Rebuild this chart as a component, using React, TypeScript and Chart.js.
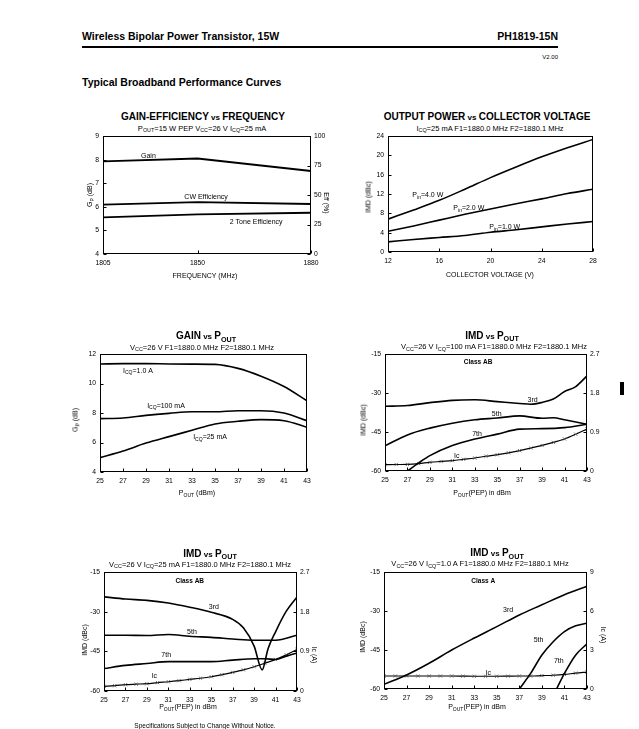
import React, { useEffect, useRef } from 'react';
import { Chart, registerables } from 'chart.js';

Chart.register(...registerables);

const FONT = '"Liberation Sans", Arial, Helvetica, sans-serif';
Chart.defaults.font.family = FONT;
Chart.defaults.color = '#000';

// ---------- Chart 1: Gain-Efficiency vs Frequency ----------
const freqLabels = ['1805', '', '', '', '', '1850', '', '', '', '', '', '1880'];
const gainDb = [7.93, null, null, null, null, 8.05, null, null, null, null, null, 7.52];
const cwEff = [41.8, null, null, null, null, 44.0, null, null, null, null, null, 42.4];
const twoToneEff = [31.1, null, null, null, null, 33.6, null, null, null, null, null, 35.0];
const gainTicks1 = [4, 5, 6, 7, 8, 9];
const effTicks = [0, 25, 50, 75, 100];

// ---------- Chart 2: Output power vs collector voltage ----------
const vccVolts = [12, 14, 16, 18, 20, 22, 24, 26, 28];
const pin4W = [6.8, 8.7, 10.7, 13.0, 15.4, 17.6, 19.7, 21.6, 23.3];
const pin2W = [4.3, 5.4, 6.6, 7.8, 8.9, 10.0, 11.0, 12.1, 13.0];
const pin1W = [2.1, 2.6, 3.0, 3.4, 4.1, 4.6, 5.2, 5.8, 6.3];
const vccTicks = [12, 16, 20, 24, 28];
const pwrTicks = [0, 4, 8, 12, 16, 20, 24];

// ---------- Chart 3: Gain vs Pout ----------
const poutDbm = [25, 27, 29, 31, 33, 35, 37, 39, 41, 43];
const gain1A = [11.33, 11.35, 11.35, 11.33, 11.32, 11.3, 11.03, 10.5, 9.8, 8.83];
const gain100mA = [7.62, 7.66, 7.84, 7.98, 8.09, 8.09, 8.16, 8.16, 8.0, 7.48];
const gain25mA = [4.97, 5.42, 5.96, 6.4, 6.83, 7.26, 7.44, 7.55, 7.48, 7.03];
const poutTicks = [25, 27, 29, 31, 33, 35, 37, 39, 41, 43];
const gainTicks3 = [4, 6, 8, 10, 12];

// shared IMD axes
const imdTicks = [-60, -45, -30, -15];
const icTicks27 = [0, 0.9, 1.8, 2.7];
const icTicks9 = [0, 3, 6, 9];
const icPout = [25, 26, 27, 28, 29, 30, 31, 32, 33, 34, 35, 36, 37, 38, 39, 40, 41, 42, 43];

// ---------- Chart 4: IMD vs Pout, Icq = 100 mA ----------
const c4x3 = [25, 27, 29, 31, 33, 35, 37, 38, 39, 40, 41, 42, 43];
const c4imd3 = [-35.1, -34.8, -33.7, -32.8, -32.6, -33.3, -34.0, -34.3, -33.6, -32.3, -29.4, -27.5, -23.4];
const c4x5 = [25, 27, 29, 31, 33, 35, 37, 39, 40, 41, 43];
const c4imd5 = [-50.3, -46.1, -43.5, -41.6, -40.3, -39.6, -38.8, -39.7, -39.5, -40.3, -42.0];
const c4x7 = [27, 28, 29, 31, 33, 35, 37, 39, 41, 43];
const c4imd7 = [-60, -56.9, -54.1, -50.2, -47.7, -45.8, -43.9, -43.7, -43.3, -42.0];
const c4ic = [0.146, 0.15, 0.153, 0.17, 0.2, 0.22, 0.24, 0.27, 0.3, 0.34, 0.376, 0.42, 0.47, 0.53, 0.59, 0.66, 0.74, 0.85, 0.97];

// ---------- Chart 5: IMD vs Pout, Icq = 25 mA ----------
const c5x3 = [25, 27, 29, 31, 33, 35, 37, 38, 39, 39.75, 40.3, 41, 42, 43];
const c5imd3 = [-24.4, -25.2, -25.7, -26.7, -28.3, -30.2, -32.9, -36.1, -43.0, -52.0, -44.0, -37.6, -29.8, -24.4];
const c5x5 = [25, 27, 29, 31, 33, 35, 37, 39, 41, 43];
const c5imd5 = [-38.9, -38.9, -39.0, -38.6, -39.3, -39.7, -40.3, -40.8, -40.8, -38.9];
const c5x7 = [25, 27, 29, 31, 33, 35, 37, 39, 40, 41, 42, 43];
const c5imd7 = [-51.5, -50.3, -49.6, -48.9, -48.9, -48.9, -48.3, -47.8, -47.8, -48.1, -46.8, -45.6];
const c5ic = [0.106, 0.12, 0.143, 0.155, 0.166, 0.19, 0.21, 0.235, 0.264, 0.29, 0.324, 0.37, 0.422, 0.48, 0.55, 0.63, 0.716, 0.82, 0.943];

// ---------- Chart 6: IMD vs Pout, Icq = 1.0 A (Class A) ----------
const c6x3 = [25, 27, 29, 31, 33, 35, 37, 39, 41, 43];
const c6imd3 = [-58.2, -54.6, -50.1, -45.0, -40.4, -36.0, -31.5, -27.6, -23.7, -20.5];
const c6x5 = [37, 38, 39, 40, 41, 42, 43];
const c6imd5 = [-60, -54.0, -46.9, -41.8, -37.9, -35.7, -34.7];
const c6x7 = [40.3, 41, 42, 43];
const c6imd7 = [-60, -54.0, -46.9, -42.6];
const c6ic = [1.0, 1.0, 1.0, 1.0, 1.0, 1.0, 1.0, 0.99, 0.98, 0.98, 0.98, 0.99, 1.0, 1.0, 1.03, 1.06, 1.12, 1.22, 1.3];

// ---------- layout helpers ----------
type Rect = [number, number, number, number];
const PAD = { l: 34, r: 34, t: 8, b: 22 };

function fixedTicks(values: number[]) {
  return (scale: any) => {
    scale.ticks = values.map((v) => ({ value: v }));
  };
}

function linAxis(axis: 'x' | 'y', position: string, min: number, max: number, values: number[], fmt?: (v: number) => string) {
  return {
    type: 'linear',
    position,
    min,
    max,
    grid: { display: false, drawTicks: false },
    border: { display: false },
    afterBuildTicks: fixedTicks(values),
    afterFit: (s: any) => {
      if (axis === 'x') s.height = PAD.b;
      else s.width = position === 'left' ? PAD.l : PAD.r;
    },
    ticks: {
      font: { size: 6.8 },
      color: '#000',
      padding: axis === 'x' ? 5 : position === 'left' ? 4 : 3,
      maxRotation: 0,
      callback: (v: number) => (fmt ? fmt(v) : String(v)),
    },
  };
}

function drawRich(ctx: CanvasRenderingContext2D, text: string, x: number, y: number, size: number, bold: boolean, align: string) {
  const parts = text.split(/_\{([^}]*)\}/);
  const fonts = parts.map((_, i) => `${bold ? 'bold ' : ''}${i % 2 ? size * 0.72 : size}px ${FONT}`);
  const widths = parts.map((p, i) => {
    ctx.font = fonts[i];
    return ctx.measureText(p).width;
  });
  const total = widths.reduce((a, b) => a + b, 0);
  let cx = align === 'center' ? x - total / 2 : align === 'right' ? x - total : x;
  ctx.textAlign = 'left';
  ctx.textBaseline = 'middle';
  ctx.fillStyle = '#000';
  parts.forEach((p, i) => {
    ctx.font = fonts[i];
    ctx.fillText(p, cx, i % 2 ? y + size * 0.32 : y);
    cx += widths[i];
  });
}

const framePlugin = {
  id: 'frame',
  afterDraw(chart: any, _args: any, opts: any) {
    const { ctx, chartArea: a, scales } = chart;
    ctx.save();
    ctx.strokeStyle = '#000';
    ctx.lineWidth = 1;
    const L = Math.round(a.left) + 0.5;
    const T = Math.round(a.top) + 0.5;
    const R = Math.round(a.right) - 0.5;
    const B = Math.round(a.bottom) - 0.5;
    ctx.strokeRect(L, T, R - L, B - T);
    ctx.beginPath();
    Object.keys(scales).forEach((id) => {
      const s = scales[id];
      s.ticks.forEach((t: any, i: number) => {
        if (t.label === '' || t.label === undefined) return;
        const p = Math.round(s.getPixelForTick(i)) + 0.5;
        if (id === 'x') {
          ctx.moveTo(p, B);
          ctx.lineTo(p, B - 3);
        } else if (id === 'y') {
          ctx.moveTo(L, p);
          ctx.lineTo(L + 3, p);
        } else if (id === 'y1') {
          ctx.moveTo(R, p);
          ctx.lineTo(R - 3, p);
        }
      });
    });
    ctx.stroke();
    (opts.notes || []).forEach((n: any) => {
      const px = scales.x.getPixelForValue(n.x);
      const py = scales.y.getPixelForValue(n.y);
      drawRich(ctx, n.t, px, py, n.size || 7, !!n.bold, n.a || 'center');
    });
    ctx.restore();
  },
};

function series(xs: number[], ys: number[], extra: any = {}) {
  return {
    data: xs.map((x, i) => ({ x, y: ys[i] })),
    borderColor: '#000',
    borderWidth: 1.6,
    pointRadius: 0,
    cubicInterpolationMode: 'monotone',
    fill: false,
    ...extra,
  };
}

function icSeries(ys: number[]) {
  return series(icPout, ys, {
    yAxisID: 'y1',
    borderWidth: 1.2,
    pointStyle: 'crossRot',
    pointRadius: 2.3,
    pointBorderWidth: 0.8,
    pointBorderColor: '#555',
  });
}

function makeConfig(datasets: any[], scales: any, notes: any[], hasRight: boolean, labels?: string[]) {
  return {
    type: 'line',
    data: labels ? { labels, datasets } : { datasets },
    options: {
      responsive: false,
      animation: false,
      devicePixelRatio: 1,
      layout: { padding: { top: PAD.t, right: hasRight ? 0 : PAD.r, left: 0, bottom: 0 } },
      plugins: { legend: { display: false }, tooltip: { enabled: false }, frame: { notes } },
      scales,
    },
    plugins: [framePlugin],
  };
}

function ChartBox({ rect, config }: { rect: Rect; config: () => any }) {
  const ref = useRef<HTMLCanvasElement>(null);
  const [pl, pt, pr, pb] = rect;
  const w = pr - pl + PAD.l + PAD.r;
  const h = pb - pt + PAD.t + PAD.b;
  useEffect(() => {
    const c = new Chart(ref.current as HTMLCanvasElement, config() as any);
    return () => c.destroy();
  }, []);
  return (
    <canvas
      ref={ref}
      width={w}
      height={h}
      style={{ position: 'absolute', left: pl - PAD.l, top: pt - PAD.t, width: w, height: h }}
    />
  );
}

function Rich({ text }: { text: string }) {
  const parts = text.split(/_\{([^}]*)\}/);
  return (
    <>
      {parts.map((p, i) =>
        i % 2 ? (
          <span key={i} style={{ fontSize: '0.72em', position: 'relative', top: '0.35em' }}>
            {p}
          </span>
        ) : (
          <span key={i}>{p}</span>
        )
      )}
    </>
  );
}

function Txt({ x, y, size, text, bold, align = 'center', rotate = 0, vs = false }: any) {
  const tx = align === 'center' ? '-50%' : align === 'right' ? '-100%' : '0';
  let content: any = <Rich text={text} />;
  if (vs) {
    const [a, b] = text.split(' vs ');
    content = (
      <>
        <Rich text={a} />
        <span style={{ fontSize: '0.8em' }}> vs </span>
        <Rich text={b} />
      </>
    );
  }
  return (
    <div
      style={{
        position: 'absolute',
        left: x,
        top: y,
        transform: `translate(${tx},-50%) rotate(${rotate}deg)`,
        fontSize: size,
        fontWeight: bold ? 700 : 400,
        whiteSpace: 'nowrap',
        lineHeight: 1,
        fontFamily: FONT,
        color: '#000',
      }}
    >
      {content}
    </div>
  );
}

// ---------- chart configs ----------
const rect1: Rect = [103, 136, 311, 254];
const rect2: Rect = [388, 136, 593, 252];
const rect3: Rect = [100, 354, 307, 472];
const rect4: Rect = [385, 354, 587, 471];
const rect5: Rect = [104, 572, 297, 691];
const rect6: Rect = [384, 572, 587, 689];

const cfg1 = () =>
  makeConfig(
    [
      { data: gainDb, borderColor: '#000', borderWidth: 1.8, pointRadius: 0, spanGaps: true, yAxisID: 'y' },
      { data: cwEff, borderColor: '#000', borderWidth: 1.8, pointRadius: 0, spanGaps: true, yAxisID: 'y1' },
      { data: twoToneEff, borderColor: '#000', borderWidth: 1.8, pointRadius: 0, spanGaps: true, yAxisID: 'y1' },
    ],
    {
      x: {
        type: 'category',
        offset: false,
        grid: { display: false, drawTicks: false },
        border: { display: false },
        afterFit: (s: any) => {
          s.height = PAD.b;
        },
        ticks: { font: { size: 6.8 }, color: '#000', padding: 5, autoSkip: false, maxRotation: 0 },
      },
      y: linAxis('y', 'left', 4, 9, gainTicks1),
      y1: linAxis('y', 'right', 0, 100, effTicks),
    },
    [
      { x: 2.4, y: 8.17, t: 'Gain' },
      { x: 5.45, y: 6.4, t: 'CW Efficiency' },
      { x: 8.1, y: 5.34, t: '2 Tone Efficiency' },
    ],
    true,
    freqLabels
  );

const cfg2 = () =>
  makeConfig(
    [series(vccVolts, pin4W), series(vccVolts, pin2W), series(vccVolts, pin1W)],
    {
      x: linAxis('x', 'bottom', 12, 28, vccTicks),
      y: linAxis('y', 'left', 0, 24, pwrTicks),
    },
    [
      { x: 13.9, y: 11.8, t: 'P_{in}=4.0 W', a: 'left' },
      { x: 17.1, y: 9.0, t: 'P_{in}=2.0 W', a: 'left' },
      { x: 19.9, y: 5.1, t: 'P_{in}=1.0 W', a: 'left' },
    ],
    false
  );

const cfg3 = () =>
  makeConfig(
    [series(poutDbm, gain1A), series(poutDbm, gain100mA), series(poutDbm, gain25mA)],
    {
      x: linAxis('x', 'bottom', 25, 43, poutTicks),
      y: linAxis('y', 'left', 4, 12, gainTicks3),
    },
    [
      { x: 27.0, y: 10.87, t: 'I_{CQ}=1.0 A', a: 'left' },
      { x: 29.1, y: 8.5, t: 'I_{CQ}=100 mA', a: 'left' },
      { x: 33.1, y: 6.36, t: 'I_{CQ}=25 mA', a: 'left' },
    ],
    false
  );

const imdAxes = (icTicks: number[], icMax: number) => ({
  x: linAxis('x', 'bottom', 25, 43, poutTicks),
  y: linAxis('y', 'left', -60, -15, imdTicks),
  y1: linAxis('y', 'right', 0, icMax, icTicks),
});

const cfg4 = () =>
  makeConfig(
    [series(c4x3, c4imd3), series(c4x5, c4imd5), series(c4x7, c4imd7), icSeries(c4ic)],
    imdAxes(icTicks27, 2.7),
    [
      { x: 33.3, y: -18.3, t: 'Class AB', bold: true, size: 6.5 },
      { x: 38.15, y: -32.6, t: '3rd' },
      { x: 34.95, y: -38.0, t: '5th' },
      { x: 33.2, y: -45.6, t: '7th' },
      { x: 31.4, y: -54.4, t: 'Ic' },
    ],
    true
  );

const cfg5 = () =>
  makeConfig(
    [series(c5x3, c5imd3), series(c5x5, c5imd5), series(c5x7, c5imd7), icSeries(c5ic)],
    imdAxes(icTicks27, 2.7),
    [
      { x: 33.0, y: -18.5, t: 'Class AB', bold: true, size: 6.5 },
      { x: 35.25, y: -28.3, t: '3rd' },
      { x: 33.2, y: -37.7, t: '5th' },
      { x: 30.8, y: -46.3, t: '7th' },
      { x: 29.7, y: -54.4, t: 'Ic' },
    ],
    true
  );

const cfg6 = () =>
  makeConfig(
    [series(c6x3, c6imd3), series(c6x5, c6imd5), series(c6x7, c6imd7), icSeries(c6ic)],
    imdAxes(icTicks9, 9),
    [
      { x: 33.8, y: -18.4, t: 'Class A', bold: true, size: 6.5 },
      { x: 36.0, y: -29.6, t: '3rd' },
      { x: 38.7, y: -41.2, t: '5th' },
      { x: 40.5, y: -49.2, t: '7th' },
      { x: 34.25, y: -53.7, t: 'Ic' },
    ],
    true
  );

export default function App() {
  return (
    <div
      style={{
        position: 'absolute',
        left: 0,
        top: 0,
        width: 639,
        height: 729,
        background: '#fff',
        overflow: 'hidden',
        fontFamily: FONT,
      }}
    >
      {/* page header */}
      <Txt x={82} y={35.5} size={10.5} bold align="left" text="Wireless Bipolar Power Transistor, 15W" />
      <Txt x={558} y={35.5} size={10.5} bold align="right" text="PH1819-15N" />
      <div style={{ position: 'absolute', left: 82, top: 46, width: 476, height: 2, background: '#000' }} />
      <Txt x={558} y={57} size={6} align="right" text="V2.00" />
      <Txt x={82} y={81.5} size={10.5} bold align="left" text="Typical Broadband Performance Curves" />

      {/* chart 1 */}
      <Txt x={203} y={117} size={10} bold vs text="GAIN-EFFICIENCY vs FREQUENCY" />
      <Txt x={202} y={128.5} size={7.5} text="P_{OUT}=15 W PEP  V_{CC}=26 V  I_{CQ}=25 mA" />
      <ChartBox rect={rect1} config={cfg1} />
      <Txt x={90} y={195} size={7} rotate={-90} text="G_{P} (dB)" />
      <Txt x={326} y={203} size={7} rotate={90} text="Eff (%)" />
      <Txt x={205} y={275} size={7} text="FREQUENCY (MHz)" />

      {/* chart 2 */}
      <Txt x={487} y={117} size={10} bold vs text="OUTPUT POWER vs COLLECTOR VOLTAGE" />
      <Txt x={490} y={128.5} size={7.5} text="I_{CQ}=25 mA  F1=1880.0 MHz  F2=1880.1 MHz" />
      <ChartBox rect={rect2} config={cfg2} />
      <Txt x={368} y={197} size={7} rotate={-90} text="IMD (dBc)" />
      <Txt x={490} y={274} size={7} text="COLLECTOR VOLTAGE (V)" />

      {/* chart 3 */}
      <Txt x={206} y={336} size={10} bold vs text="GAIN vs P_{OUT}" />
      <Txt x={202} y={347.5} size={7.5} text="V_{CC}=26 V  F1=1880.0 MHz  F2=1880.1 MHz" />
      <ChartBox rect={rect3} config={cfg3} />
      <Txt x={75} y={420} size={7} rotate={-90} text="G_{P} (dB)" />
      <Txt x={197} y={493} size={7} text="P_{OUT} (dBm)" />

      {/* chart 4 */}
      <Txt x={492} y={335.5} size={10} bold vs text="IMD vs P_{OUT}" />
      <Txt x={494} y={347} size={7.5} text="V_{CC}=26 V  I_{CQ}=100 mA  F1=1880.0 MHz  F2=1880.1 MHz" />
      <ChartBox rect={rect4} config={cfg4} />
      <Txt x={363} y={420} size={7} rotate={-90} text="IMD (dBc)" />
      <Txt x={482} y={493} size={7} text="P_{OUT}(PEP) in dBm" />
      <div style={{ position: 'absolute', left: 620, top: 382, width: 4, height: 13, background: '#000' }} />

      {/* chart 5 */}
      <Txt x={210} y={553.5} size={10} bold vs text="IMD vs P_{OUT}" />
      <Txt x={200} y={564.5} size={7.5} text="V_{CC}=26 V  I_{CQ}=25 mA  F1=1880.0 MHz  F2=1880.1 MHz" />
      <ChartBox rect={rect5} config={cfg5} />
      <Txt x={84} y={640} size={7} rotate={-90} text="IMD (dBc)" />
      <Txt x={314} y={655} size={7} rotate={90} text="Ic (A)" />
      <Txt x={188} y={707} size={7} text="P_{OUT}(PEP) in dBm" />

      {/* chart 6 */}
      <Txt x={497} y={553} size={10} bold vs text="IMD vs P_{OUT}" />
      <Txt x={480} y={564} size={7.5} text="V_{CC}=26 V  I_{CQ}=1.0 A  F1=1880.0 MHz  F2=1880.1 MHz" />
      <ChartBox rect={rect6} config={cfg6} />
      <Txt x={362} y={637} size={7} rotate={-90} text="IMD (dBc)" />
      <Txt x={603} y={635} size={7} rotate={90} text="Ic (A)" />
      <Txt x={477} y={707} size={7} text="P_{OUT}(PEP) in dBm" />

      {/* footer */}
      <Txt x={205} y={725.5} size={6.5} text="Specifications Subject to Change Without Notice." />
    </div>
  );
}
